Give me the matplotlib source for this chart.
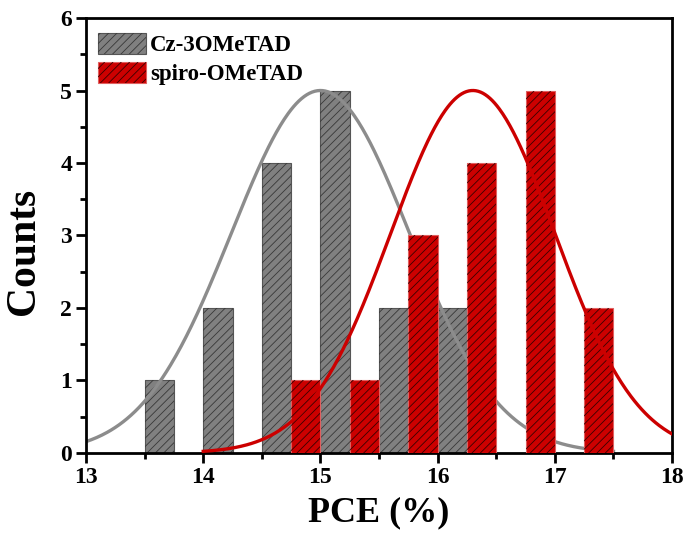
import matplotlib.pyplot as plt
import numpy as np
from matplotlib.ticker import MultipleLocator
from matplotlib.patches import Patch

plt.rcParams['font.family'] = ['Liberation Serif', 'DejaVu Serif']
plt.rcParams['font.weight'] = 'bold'
plt.rcParams['hatch.linewidth'] = 0.6

# histogram bins (left edges, PCE %) and counts
bin_width = 0.25
cz_left = [13.5, 14.0, 14.5, 15.0, 15.5, 16.0]
cz_counts = [1, 2, 4, 5, 2, 2]
spiro_left = [14.75, 15.25, 15.75, 16.25, 16.75, 17.25]
spiro_counts = [1, 1, 3, 4, 5, 2]

# gaussian fits: (amplitude, centre, sigma, x range)
cz_fit = (5.0, 15.0, 0.76, (13.0, 17.5))
spiro_fit = (5.0, 16.3, 0.70, (14.0, 18.0))

gray_face = '#808080'
red_face = '#cc0000'
hatch = '////'


def gauss(x, a, mu, s):
    return a * np.exp(-(x - mu) ** 2 / (2 * s ** 2))


fig = plt.figure(figsize=(6.86, 5.36), dpi=100)
ax = fig.add_axes([0.1254, 0.1549, 0.8543, 0.8115])

# gray bars + hatch overlay
ax.bar(cz_left, cz_counts, width=bin_width, align='edge', color=gray_face,
       edgecolor='#555555', linewidth=0.8, zorder=1)
ax.bar(cz_left, cz_counts, width=bin_width, align='edge', color='none',
       edgecolor='#383838', linewidth=0, hatch=hatch, zorder=1.1)

x = np.linspace(*cz_fit[3], 400)
ax.plot(x, gauss(x, *cz_fit[:3]), color='#8c8c8c', lw=2.4, zorder=2)

# red bars + hatch overlay
ax.bar(spiro_left, spiro_counts, width=bin_width, align='edge', color=red_face,
       edgecolor='#e06060', linewidth=0.8, zorder=3)
ax.bar(spiro_left, spiro_counts, width=bin_width, align='edge', color='none',
       edgecolor='#3a0000', linewidth=0, hatch=hatch, zorder=3.1)

x = np.linspace(*spiro_fit[3], 400)
ax.plot(x, gauss(x, *spiro_fit[:3]), color='#cc0000', lw=2.4, zorder=4)

ax.set_xlim(13, 18)
ax.set_ylim(0, 6)
ax.xaxis.set_major_locator(MultipleLocator(1))
ax.xaxis.set_minor_locator(MultipleLocator(0.5))
ax.yaxis.set_major_locator(MultipleLocator(1))
ax.yaxis.set_minor_locator(MultipleLocator(0.5))
ax.tick_params(which='major', direction='out', length=7, width=2, labelsize=17, pad=3)
ax.tick_params(which='minor', direction='out', length=4, width=2)
for sp in ax.spines.values():
    sp.set_linewidth(2)

ax.set_xlabel('PCE (%)', fontsize=26, fontweight='bold', labelpad=6)
ax.set_ylabel('Counts', fontsize=30, fontweight='bold')
ax.yaxis.set_label_coords(-0.074, 0.464)

# legend handles: face patch with hatch on top
h_cz = (Patch(facecolor=gray_face, edgecolor='#555555', lw=0.8),
        Patch(facecolor='none', edgecolor='#383838', lw=0, hatch=hatch))
h_sp = (Patch(facecolor=red_face, edgecolor='#e06060', lw=0.8),
        Patch(facecolor='none', edgecolor='#3a0000', lw=0, hatch=hatch))
ax.legend([h_cz, h_sp], ['Cz-3OMeTAD', 'spiro-OMeTAD'], loc='upper left',
          bbox_to_anchor=(0.004, 0.986), frameon=False, handlelength=2.1,
          handleheight=1.0, handletextpad=0.2, labelspacing=0.26,
          borderaxespad=0, prop={'weight': 'bold', 'size': 16.5})

fig.savefig('out.png', dpi=100)
